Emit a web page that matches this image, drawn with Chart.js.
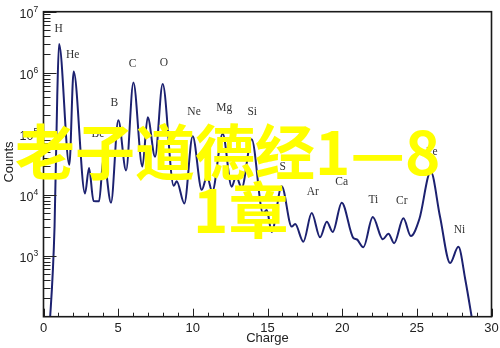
<!DOCTYPE html>
<html>
<head>
<meta charset="utf-8">
<script src="https://cdn.jsdelivr.net/npm/chart.js@4/dist/chart.umd.min.js"></script>
<style>
  html, body { margin: 0; padding: 0; background: #fff; }
  #wrap { position: relative; width: 500px; height: 348px; }
  .big {
    position: absolute;
    font-family: "Noto Sans CJK SC", sans-serif;
    font-weight: 700;
    font-size: 60px;
    line-height: 60px;
    color: #ffff00;
    white-space: nowrap;
    pointer-events: none;
  }
</style>
</head>
<body>
<div id="wrap">
  <canvas id="myChart" width="500" height="348"></canvas>
  <div class="big" style="left:15px; top:119px">老子道德经1—8</div>
  <div class="big" style="left:193px; top:177px">1章</div>
</div>
<script>
// charge spectrum (counts per charge bin)
const charge = [
  0.35, 0.74, 0.92, 1.04, 1.73, 2.02, 2.78, 3.05, 3.35, 3.72,
  4.02, 4.52, 5.01, 5.53, 6.02, 6.62, 6.98, 7.47, 7.98, 8.72,
  8.92, 9.43, 9.99, 10.6, 10.95, 11.3, 12.0, 12.6, 12.9, 13.27,
  13.94, 14.7, 14.95, 15.28, 15.95, 16.62, 16.85, 17.4, 17.96, 18.52,
  18.97, 19.37, 19.97, 20.75, 20.97, 21.42, 22.05, 22.72, 23.1, 23.48,
  24.1, 24.6, 25.17, 25.93, 26.55, 27.23, 27.78, 28.25, 28.7, 29.0
];
const counts = [
  40, 3000, 4.0e5, 2.95e6, 3.1e4, 1.05e6, 1.05e4, 2.75e4, 7.9e3, 7.8e3,
  4.0e4, 7.4e3, 1.66e5, 2.5e4, 6.9e5, 2.9e4, 1.86e5, 4.2e4, 6.5e5, 1.4e4,
  1.66e4, 7.2e3, 9.1e4, 1.2e4, 2.0e4, 1.12e4, 1.0e5, 1.35e4, 2.0e4, 1.29e4,
  8.1e4, 5.0e3, 5.6e3, 2.45e3, 1.38e4, 3.0e3, 3.3e3, 1.7e3, 5.0e3, 2.0e3,
  3.6e3, 2.45e3, 7.4e3, 1.95e3, 1.86e3, 1.38e3, 4.3e3, 1.86e3, 2.3e3, 1.6e3,
  4.1e3, 2.1e3, 4.0e3, 2.4e4, 4.4e3, 760, 1.4e3, 400, 90, 32
];

const elementNames = ["H", "He", "Be", "B", "C", "O", "Ne", "Mg", "Si", "S", "Ar", "Ca", "Ti", "Cr", "Fe", "Ni"];

const xTickLabels = ["0", "5", "10", "15", "20", "25", "30"];
const yTickExponents = [3, 4, 5, 6, 7];

// where each element name sits, in (charge, counts)
const elementAnchors = [
  [1.02, 5.2e6], [1.96, 1.95e6], [3.65, 1.0e5], [4.74, 3.2e5], [5.97, 1.4e6],
  [8.07, 1.45e6], [10.08, 2.3e5], [12.11, 2.6e5], [13.98, 2.3e5], [16.02, 2.9e4],
  [18.03, 1.12e4], [19.97, 1.6e4], [22.09, 8.3e3], [23.99, 7.9e3], [26.0, 5.0e4],
  [27.85, 2.6e3]
];

const axesFrame = {
  id: "axesFrame",
  afterDraw(chart) {
    const { ctx, chartArea: a } = chart;
    const x = chart.scales.x;
    const y = chart.scales.y;
    ctx.save();

    // ticks point inward from the left and bottom edges
    ctx.strokeStyle = "#222";
    ctx.lineWidth = 1;
    for (let v = 0; v <= 30; v++) {
      const px = Math.round(x.getPixelForValue(v)) + 0.5;
      const len = v % 5 === 0 ? 8 : 4;
      ctx.beginPath();
      ctx.moveTo(px, a.bottom);
      ctx.lineTo(px, a.bottom - len);
      ctx.stroke();
    }
    for (let n = 2; n <= 7; n++) {
      for (let k = 1; k <= 9; k++) {
        const v = k * Math.pow(10, n);
        if (v > 1e7 || (n === 2 && k === 1)) continue;
        const py = Math.round(y.getPixelForValue(v)) + 0.5;
        const len = k === 1 ? 13 : 7;
        ctx.beginPath();
        ctx.moveTo(a.left, py);
        ctx.lineTo(a.left + len, py);
        ctx.stroke();
      }
    }

    // frame
    ctx.lineWidth = 1.6;
    ctx.strokeStyle = "#1a1a1a";
    ctx.strokeRect(a.left, a.top, a.right - a.left, a.bottom - a.top);

    // tick labels
    ctx.fillStyle = "#222";
    ctx.font = "13px 'Liberation Sans', Arial, sans-serif";
    ctx.textAlign = "center";
    ctx.textBaseline = "alphabetic";
    xTickLabels.forEach((t) => {
      ctx.fillText(t, x.getPixelForValue(Number(t)), a.bottom + 15);
    });
    yTickExponents.forEach((e) => {
      const py = y.getPixelForValue(Math.pow(10, e));
      ctx.font = "12.5px 'Liberation Sans', Arial, sans-serif";
      ctx.textAlign = "right";
      ctx.fillText("10", a.left - 10, py + 6.5);
      ctx.font = "8.5px 'Liberation Sans', Arial, sans-serif";
      ctx.textAlign = "left";
      ctx.fillText(String(e), a.left - 10, py + 0.5);
    });

    // axis titles
    ctx.font = "13px 'Liberation Sans', Arial, sans-serif";
    ctx.textAlign = "center";
    ctx.fillText("Charge", (a.left + a.right) / 2, 342);
    ctx.save();
    ctx.translate(13, 162);
    ctx.rotate(-Math.PI / 2);
    ctx.fillText("Counts", 0, 0);
    ctx.restore();

    // element names above their peaks
    ctx.font = "11.5px 'Liberation Serif', 'Times New Roman', serif";
    ctx.fillStyle = "#333";
    ctx.textAlign = "center";
    ctx.textBaseline = "middle";
    elementNames.forEach((name, i) => {
      const [c, n] = elementAnchors[i];
      ctx.fillText(name, x.getPixelForValue(c), y.getPixelForValue(n));
    });

    ctx.restore();
  },
};

const ctx = document.getElementById("myChart");

new Chart(ctx, {
  type: "line",
  data: {
    datasets: [
      {
        data: charge.map((c, i) => ({ x: c, y: counts[i] })),
        borderColor: "#1c2170",
        borderWidth: 2,
        pointRadius: 0,
        fill: false,
        cubicInterpolationMode: "monotone",
      },
    ],
  },
  options: {
    responsive: false,
    animation: false,
    devicePixelRatio: 1,
    layout: {
      padding: { left: 43.5, right: 8.5, top: 11.7, bottom: 31.3 },
    },
    plugins: {
      legend: { display: false },
      tooltip: { enabled: false },
    },
    scales: {
      x: {
        type: "linear",
        min: 0,
        max: 30,
        display: false,
      },
      y: {
        type: "logarithmic",
        min: 100,
        max: 1e7,
        display: false,
      },
    },
  },
  plugins: [axesFrame],
});
</script>
</body>
</html>
